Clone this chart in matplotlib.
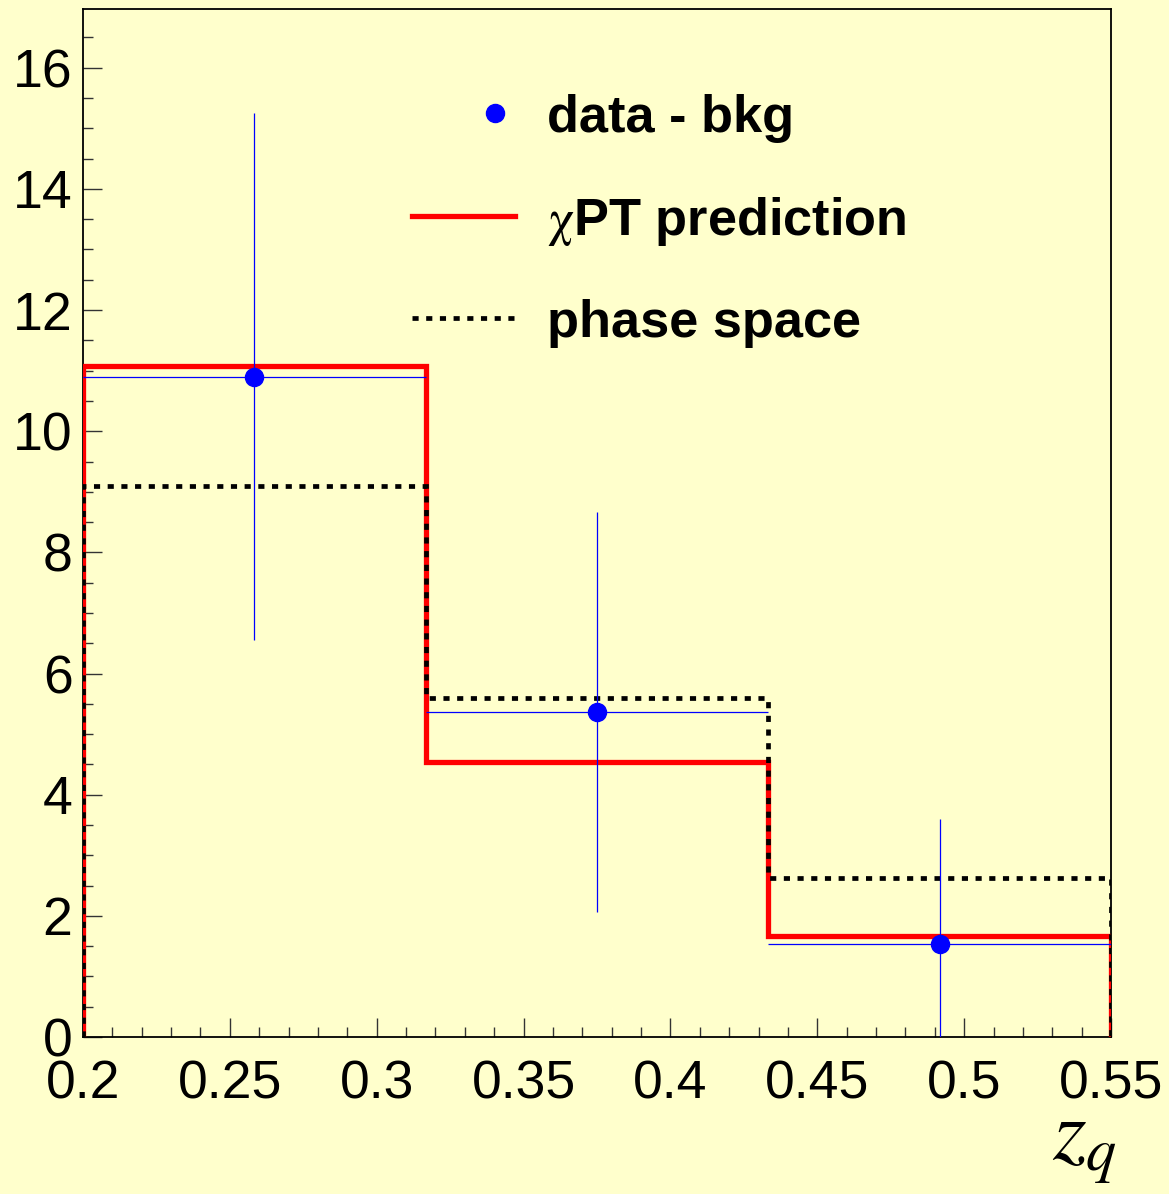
import matplotlib
matplotlib.use("Agg")
import matplotlib.pyplot as plt
from matplotlib.lines import Line2D
import numpy as np

# ---- data ----
bin_edges = [0.2, 0.316667, 0.433333, 0.55]
data_bkg = [10.90, 5.36, 1.54]
data_err = [4.35, 3.30, 2.06]
chipt_pred = [11.07, 4.54, 1.67]
phase_space = [9.09, 5.60, 2.63]
x_ticks = [0.2, 0.25, 0.3, 0.35, 0.4, 0.45, 0.5, 0.55]
x_ticklabels = ["0.2", "0.25", "0.3", "0.35", "0.4", "0.45", "0.5", "0.55"]
y_ticks = [0, 2, 4, 6, 8, 10, 12, 14, 16]
y_ticklabels = ["0", "2", "4", "6", "8", "10", "12", "14", "16"]
legend_labels = ["data - bkg", r"$\mathrm{\chi}$PT prediction", "phase space"]

plt.rcParams['font.family'] = ['Liberation Sans', 'DejaVu Sans']
plt.rcParams['mathtext.fontset'] = 'stix'

bg = '#FFFFCC'
W, H = 1169, 1194
fig = plt.figure(figsize=(W / 100, H / 100), dpi=100, facecolor=bg)
ax = fig.add_axes([83 / W, 1 - 1037 / H, (1111 - 83) / W, (1037 - 9) / H])
ax.set_facecolor(bg)

edges = np.array(bin_edges)
centers = 0.5 * (edges[:-1] + edges[1:])
halfw = 0.5 * (edges[1:] - edges[:-1])

dot_style = (0, (1.3, 1.6))
ax.stairs(chipt_pred, edges, baseline=0, color='#FF0000', lw=3.8, zorder=3)
ax.stairs(phase_space, edges, baseline=0, color='black', lw=3.4,
          linestyle=dot_style, zorder=4)
ax.errorbar(centers, data_bkg, yerr=data_err, xerr=halfw, fmt='o',
            color='#0000FF', ms=13, elinewidth=0.9, capsize=0, zorder=5)

ax.set_xlim(0.2, 0.55)
ax.set_ylim(0, 16.97)

ax.set_xticks(x_ticks)
ax.set_xticklabels(x_ticklabels)
ax.set_yticks(y_ticks)
ax.set_yticklabels(y_ticklabels)
ax.set_xticks(np.arange(0.2, 0.5501, 0.01), minor=True)
ax.set_yticks(np.arange(0, 16.9, 0.5), minor=True)
ax.tick_params(which='both', direction='in', top=False, right=False,
               color='#333333', width=1.0, labelsize=38.5)
ax.tick_params(which='major', length=14)
ax.tick_params(which='minor', length=7.5)
ax.tick_params(axis='y', pad=7.5)
ax.tick_params(axis='x', pad=16)
for s in ax.spines.values():
    s.set_linewidth(1.3)
    s.set_color('black')

# legend (manual, ROOT style)
ax_px = lambda x: (x - 83) / (1111 - 83)
ay_px = lambda y: (1037 - y) / (1037 - 9)
ax.add_line(Line2D([ax_px(495)], [ay_px(113)], marker='o', ms=13,
                   color='#0000FF', transform=ax.transAxes, clip_on=False))
ax.add_line(Line2D([ax_px(412), ax_px(515)], [ay_px(216), ay_px(216)],
                   color='#FF0000', lw=3.8, transform=ax.transAxes))
ax.add_line(Line2D([ax_px(412), ax_px(515)], [ay_px(318), ay_px(318)],
                   color='black', lw=3.4, linestyle=dot_style,
                   transform=ax.transAxes))
for lab, yb in zip(legend_labels, [132, 235, 337]):
    ax.text(ax_px(547), ay_px(yb), lab, transform=ax.transAxes,
            fontsize=37.7, fontweight='bold', va='baseline', ha='left')

fig.text(1052 / W, 1 - 1160 / H, r"$z_q$", fontsize=62, va='baseline', ha='left')

fig.savefig("out.png", dpi=100, facecolor=bg)
